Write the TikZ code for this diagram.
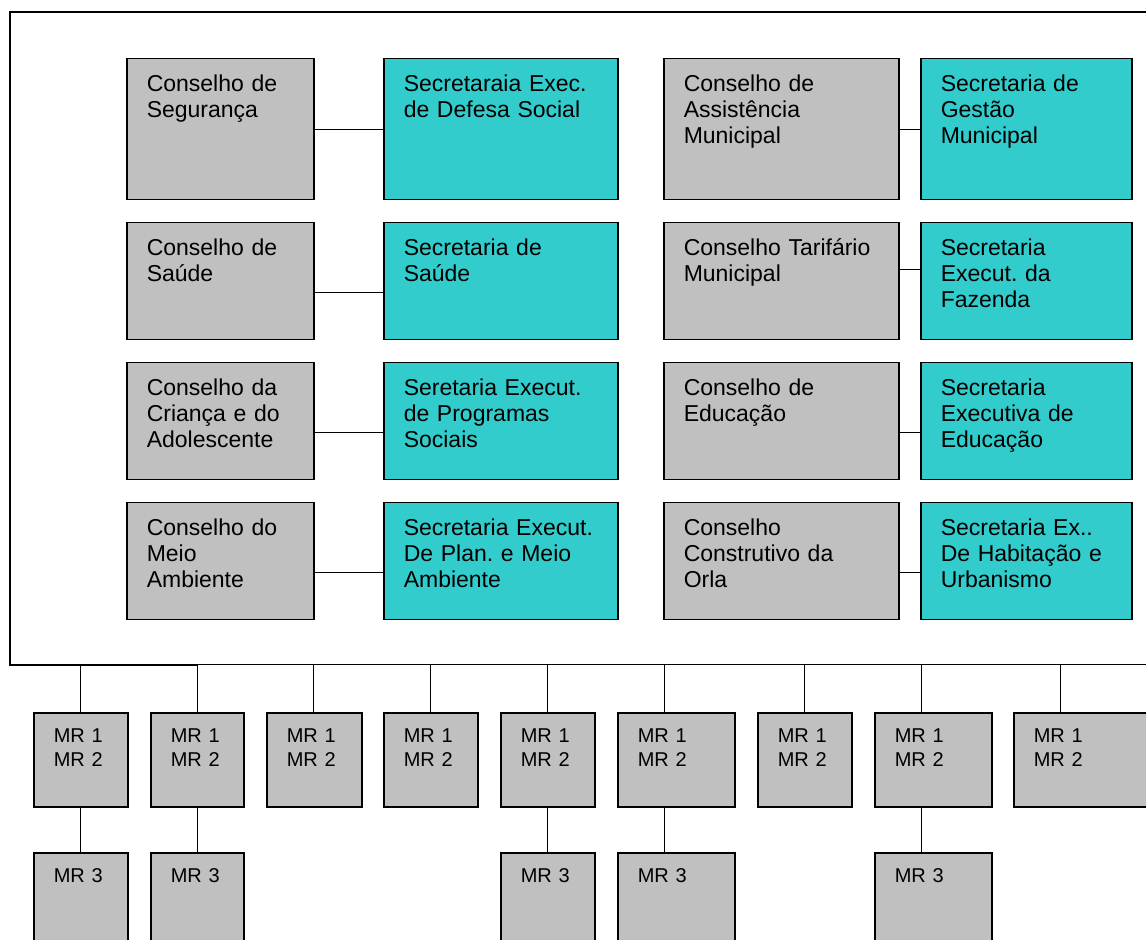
\documentclass[tikz,border=0pt]{standalone}
\usepackage{fontspec}
\setmainfont{Liberation Sans}
\frenchspacing
\definecolor{gris}{RGB}{192,192,192}
\definecolor{turq}{RGB}{51,204,204}

\begin{document}
\begin{tikzpicture}[x=0.5pt,y=-0.5pt,
  bx/.style={draw=black, line width=0.75pt, anchor=north west, inner xsep=10pt, inner ysep=0pt,
    align=left, text height=16.25pt, font=\fontsize{11.5}{13.15}\selectfont},
  cons/.style={bx, fill=gris},
  secr/.style={bx, fill=turq},
  mr/.style={bx, fill=gris, text height=15pt, text depth=32pt, font=\fontsize{10}{11.65}\selectfont},
  ln/.style={line width=0.5pt}]
\useasboundingbox (0,0) rectangle (1146,940);
\clip (0,0) rectangle (1146,940);

\draw[line width=0.7pt] (197,665) -- (10,665) -- (10,12) -- (1160,12);
\coordinate (bus) at (0,665);
\draw[ln] (80,665) -- (1160,665);

% conselhos e secretarias
\node[cons, text width=73.5pt, text depth=54.25pt] (c1) at (126,58) {Conselho de\\Segurança};
\node[secr, text width=97pt, text depth=54.25pt] (s1) at (383,58) {Secretaraia Exec.\\de Defesa Social};
\node[cons, text width=73.5pt, text depth=42.25pt] (c2) at (126,222) {Conselho de\\Saúde};
\node[secr, text width=97pt, text depth=42.25pt] (s2) at (383,222) {Secretaria de\\Saúde};
\node[cons, text width=73.5pt, text depth=42.25pt] (c3) at (126,362) {Conselho da\\Criança e do\\Adolescente};
\node[secr, text width=97pt, text depth=42.25pt] (s3) at (383,362) {Seretaria Execut.\\de Programas\\Sociais};
\node[cons, text width=73.5pt, text depth=42.25pt] (c4) at (126,502) {Conselho do\\Meio\\Ambiente};
\node[secr, text width=97pt, text depth=42.25pt] (s4) at (383,502) {Secretaria Execut.\\De Plan. e Meio\\Ambiente};

\node[cons, text width=97.5pt, text depth=54.25pt] (c5) at (663,58) {Conselho de\\Assistência\\Municipal};
\node[secr, text width=85.5pt, text depth=54.25pt] (s5) at (920,58) {Secretaria de\\Gestão\\Municipal};
\node[cons, text width=97.5pt, text depth=42.25pt] (c6) at (663,222) {Conselho Tarifário\\Municipal};
\node[secr, text width=85.5pt, text depth=42.25pt] (s6) at (920,222) {Secretaria\\Execut. da\\Fazenda};
\node[cons, text width=97.5pt, text depth=42.25pt] (c7) at (663,362) {Conselho de\\Educação};
\node[secr, text width=85.5pt, text depth=42.25pt] (s7) at (920,362) {Secretaria\\Executiva de\\Educação};
\node[cons, text width=97.5pt, text depth=42.25pt] (c8) at (663,502) {Conselho\\Construtivo da\\Orla};
\node[secr, text width=85.5pt, text depth=42.25pt] (s8) at (920,502) {Secretaria Ex..\\De Habitação e\\Urbanismo};

\draw[ln] (c1.east) -- (s1.west);
\draw[ln] ([yshift=-5.75pt]c2.east) -- ([yshift=-5.75pt]s2.west);
\draw[ln] ([yshift=-5.75pt]c3.east) -- ([yshift=-5.75pt]s3.west);
\draw[ln] ([yshift=-5.75pt]c4.east) -- ([yshift=-5.75pt]s4.west);
\draw[ln] (c5.east) -- (s5.west);
\draw[ln] ([yshift=5.75pt]c6.east) -- ([yshift=5.75pt]s6.west);
\draw[ln] ([yshift=-5.75pt]c7.east) -- ([yshift=-5.75pt]s7.west);
\draw[ln] ([yshift=-5.75pt]c8.east) -- ([yshift=-5.75pt]s8.west);

% MR
\node[mr, text width=27pt] (m1) at (33,712) {MR 1\\MR 2};
\node[mr, text width=26.5pt] (m2) at (150,712) {MR 1\\MR 2};
\node[mr, text width=27.5pt] (m3) at (266,712) {MR 1\\MR 2};
\node[mr, text width=27pt] (m4) at (383,712) {MR 1\\MR 2};
\node[mr, text width=27pt] (m5) at (500,712) {MR 1\\MR 2};
\node[mr, text width=38.5pt] (m6) at (617,712) {MR 1\\MR 2};
\node[mr, text width=27pt] (m7) at (757,712) {MR 1\\MR 2};
\node[mr, text width=38.5pt] (m8) at (874,712) {MR 1\\MR 2};
\node[mr, text width=50pt] (m9) at (1013,712) {MR 1\\MR 2};

\node[mr, text width=27pt] (r1) at (33,852) {MR 3};
\node[mr, text width=26.5pt] (r2) at (150,852) {MR 3};
\node[mr, text width=27pt] (r5) at (500,852) {MR 3};
\node[mr, text width=38.5pt] (r6) at (617,852) {MR 3};
\node[mr, text width=38.5pt] (r8) at (874,852) {MR 3};

\foreach \m in {m1,m2,m3,m4,m5,m6,m7,m8,m9}
  \draw[ln] ([xshift=23.5pt]\m.north west) -- ([xshift=23.5pt]\m.north west |- bus);
\draw[ln] ([xshift=23.5pt]m1.south west) -- ([xshift=23.5pt]r1.north west);
\draw[ln] ([xshift=23.5pt]m2.south west) -- ([xshift=23.5pt]r2.north west);
\draw[ln] ([xshift=23.5pt]m5.south west) -- ([xshift=23.5pt]r5.north west);
\draw[ln] ([xshift=23.5pt]m6.south west) -- ([xshift=23.5pt]r6.north west);
\draw[ln] ([xshift=23.5pt]m8.south west) -- ([xshift=23.5pt]r8.north west);
\end{tikzpicture}
\end{document}
